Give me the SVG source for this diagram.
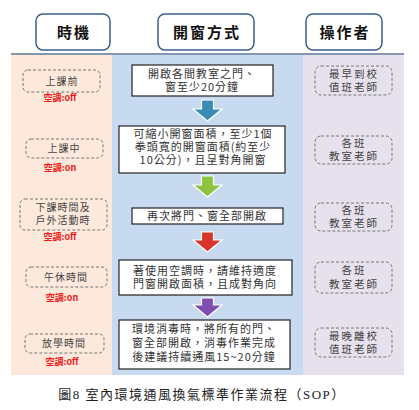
<svg xmlns="http://www.w3.org/2000/svg" width="419" height="410" viewBox="0 0 419 410">
<style>
.hdr{fill:#fff;stroke:#3b5f8c;stroke-width:1.5}
.ht{font-family:"Noto Sans CJK TC",sans-serif;font-size:15px;font-weight:bold;fill:#111;text-anchor:middle;letter-spacing:2px}
.dash{fill:none;stroke:#777;stroke-width:1;stroke-dasharray:3,2}
.st{font-family:"Noto Sans CJK TC",sans-serif;font-size:10px;fill:#444;text-anchor:middle;letter-spacing:1px}
.rt{font-family:"Noto Sans CJK TC",sans-serif;font-size:10.5px;fill:#444;text-anchor:middle;letter-spacing:2px}
.ac{font-family:"Noto Sans CJK TC",sans-serif;font-size:9px;font-weight:bold;fill:#f01818;text-anchor:middle}
.mb{fill:#fff;stroke:#222;stroke-width:1.2}
.mt{font-family:"Noto Sans CJK TC",sans-serif;font-size:11px;fill:#333;text-anchor:middle;letter-spacing:1px}
.cap{font-family:"Liberation Serif","Noto Sans CJK TC",serif;font-size:13px;fill:#222;text-anchor:middle;letter-spacing:1.5px}
.arr{stroke:#fff;stroke-width:1.2}
</style>
<rect x="0" y="0" width="419" height="410" fill="#fff"/>
<g id="bg">
<rect x="11" y="55" width="101" height="320" fill="#fce9dc"/>
<rect x="112" y="55" width="191" height="320" fill="#c8daf0"/>
<rect x="303" y="55" width="101" height="320" fill="#e6e1ed"/>
<line x1="11" y1="54" x2="404" y2="54" stroke="#5a7694" stroke-width="1.5"/>
</g>
<g id="header-timing"><rect class="hdr" x="36" y="14" width="74" height="36" rx="7"/><text class="ht" x="74" y="38">時機</text></g>
<g id="header-method"><rect class="hdr" x="158" y="14" width="96" height="36" rx="7"/><text class="ht" x="207" y="38">開窗方式</text></g>
<g id="header-operator"><rect class="hdr" x="306" y="14" width="76" height="36" rx="7"/><text class="ht" x="345" y="38">操作者</text></g>

<g id="t1"><rect class="dash" x="23" y="70" width="77" height="22" rx="5"/><text class="st" x="62" y="85">上課前</text><text class="ac" x="60" y="101">空調:off</text></g>
<g id="t2"><rect class="dash" x="26" y="139" width="77" height="19" rx="5"/><text class="st" x="64" y="152">上課中</text><text class="ac" x="60" y="171">空調:on</text></g>
<g id="t3"><rect class="dash" x="20" y="199" width="87" height="31" rx="5"/><text class="st" x="63" y="211">下課時間及</text><text class="st" x="63" y="224">戶外活動時</text><text class="ac" x="60" y="240">空調:off</text></g>
<g id="t4"><rect class="dash" x="26" y="267" width="81" height="20" rx="5"/><text class="st" x="66" y="281">午休時間</text><text class="ac" x="62" y="301">空調:on</text></g>
<g id="t5"><rect class="dash" x="25" y="334" width="79" height="19" rx="5"/><text class="st" x="64" y="347">放學時間</text><text class="ac" x="62" y="365">空調:off</text></g>

<g id="m1"><rect class="mb" x="132" y="65" width="141" height="31"/><text class="mt" x="202" y="78">開啟各間教室之門、</text><text class="mt" x="202" y="91">窗至少20分鐘</text></g>
<g id="m2"><rect class="mb" x="119" y="126" width="166" height="47"/><text class="mt" x="203" y="138">可縮小開窗面積，至少1個</text><text class="mt" x="203" y="151">拳頭寬的開窗面積(約至少</text><text class="mt" x="203" y="164">10公分)，且呈對角開窗</text></g>
<g id="m3"><rect class="mb" x="132" y="208" width="151" height="16"/><text class="mt" x="207" y="220">再次將門、窗全部開啟</text></g>
<g id="m4"><rect class="mb" x="119" y="260" width="173" height="35"/><text class="mt" x="205" y="275">著使用空調時，請維持適度</text><text class="mt" x="205" y="288">門窗開啟面積，且成對角向</text></g>
<g id="m5"><rect class="mb" x="119" y="320" width="171" height="49"/><text class="mt" x="204" y="333">環境消毒時，將所有的門、</text><text class="mt" x="204" y="347">窗全部開啟，消毒作業完成</text><text class="mt" x="204" y="361">後建議持續通風15~20分鐘</text></g>

<g id="connectors">
<path class="arr" fill="#3a8cb5" d="M201.5,100 H213.5 V109 H222 L207.5,121 L193,109 H201.5 Z"/>
<path class="arr" fill="#8cc43f" d="M201.5,176 H213.5 V185 H222 L207.5,197 L193,185 H201.5 Z"/>
<path class="arr" fill="#d8342a" d="M201.5,232 H213.5 V240 H222 L207.5,252 L193,240 H201.5 Z"/>
<path class="arr" fill="#7f4fb0" d="M201.5,298 H213.5 V305 H222 L207.5,317 L193,305 H201.5 Z"/>
</g>

<g id="o1"><rect class="dash" x="315" y="66" width="77" height="29" rx="6"/><text class="rt" x="354" y="78">最早到校</text><text class="rt" x="354" y="91">值班老師</text></g>
<g id="o2"><rect class="dash" x="315" y="136" width="77" height="28" rx="6"/><text class="rt" x="354" y="147">各班</text><text class="rt" x="354" y="160">教室老師</text></g>
<g id="o3"><rect class="dash" x="315" y="203" width="77" height="28" rx="6"/><text class="rt" x="354" y="214">各班</text><text class="rt" x="354" y="227">教室老師</text></g>
<g id="o4"><rect class="dash" x="315" y="262" width="77" height="31" rx="6"/><text class="rt" x="354" y="274">各班</text><text class="rt" x="354" y="288">教室老師</text></g>
<g id="o5"><rect class="dash" x="315" y="328" width="77" height="29" rx="6"/><text class="rt" x="354" y="340">最晚離校</text><text class="rt" x="354" y="353">值班老師</text></g>

<text class="cap" x="202" y="399">圖8 室內環境通風換氣標準作業流程（SOP）</text>
</svg>
